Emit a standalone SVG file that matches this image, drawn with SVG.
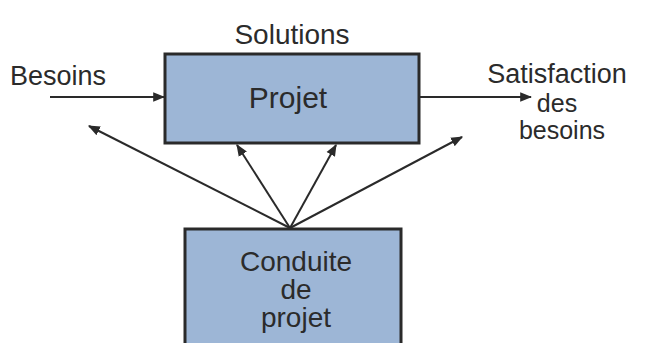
<svg xmlns="http://www.w3.org/2000/svg" width="649" height="343" viewBox="0 0 649 343">
  <style>
    .box { fill: #9db6d6; stroke: #2a2a2a; stroke-width: 3; }
    .lbl { font-family: "Liberation Sans", Arial, sans-serif; fill: #2b2b2b; }
    .edge { stroke: #2a2a2a; stroke-width: 2; fill: none; marker-end: url(#tip); }
  </style>
  <defs>
    <marker id="tip" viewBox="0 0 10 10" refX="9" refY="5" markerWidth="6" markerHeight="6" orient="auto" markerUnits="strokeWidth">
      <path d="M0,1 L10,5 L0,9 z" fill="#2a2a2a"/>
    </marker>
  </defs>

  <rect width="649" height="343" fill="#ffffff"/>

  <g id="connectors">
    <line class="edge" x1="50" y1="97" x2="164" y2="97"/>
    <line class="edge" x1="420" y1="97" x2="531" y2="97"/>
    <line class="edge" x1="290" y1="228" x2="89" y2="126"/>
    <line class="edge" x1="290" y1="228" x2="237" y2="145"/>
    <line class="edge" x1="290" y1="228" x2="336" y2="145"/>
    <line class="edge" x1="290" y1="228" x2="462" y2="137"/>
  </g>

  <g id="projet">
    <rect class="box" x="165" y="54" width="254" height="89"/>
    <text class="lbl" x="288" y="108" font-size="30" text-anchor="middle">Projet</text>
  </g>

  <g id="conduite">
    <rect class="box" x="185" y="229" width="216" height="118"/>
    <text class="lbl" x="296" y="271" font-size="28" text-anchor="middle">Conduite</text>
    <text class="lbl" x="296" y="299" font-size="28" text-anchor="middle">de</text>
    <text class="lbl" x="296" y="327" font-size="28" text-anchor="middle">projet</text>
  </g>

  <g id="labels">
    <text class="lbl" x="292" y="44" font-size="28" text-anchor="middle">Solutions</text>
    <text class="lbl" x="10" y="85" font-size="27">Besoins</text>
    <text class="lbl" x="557" y="83" font-size="27" text-anchor="middle">Satisfaction</text>
    <text class="lbl" x="557" y="112" font-size="25" text-anchor="middle">des</text>
    <text class="lbl" x="562" y="139" font-size="25" text-anchor="middle">besoins</text>
  </g>
</svg>
